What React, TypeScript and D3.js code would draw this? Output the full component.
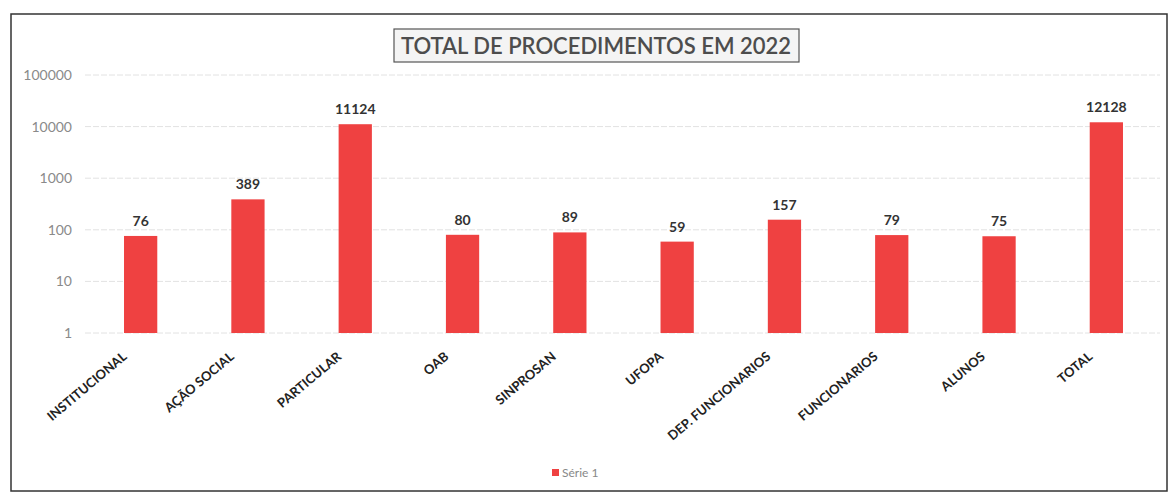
import React from "react";
import * as d3 from "d3";

const categories = [
  "INSTITUCIONAL",
  "AÇÃO SOCIAL",
  "PARTICULAR",
  "OAB",
  "SINPROSAN",
  "UFOPA",
  "DEP. FUNCIONARIOS",
  "FUNCIONARIOS",
  "ALUNOS",
  "TOTAL",
];
const values = [76, 389, 11124, 80, 89, 59, 157, 79, 75, 12128];
const yTicks = [1, 10, 100, 1000, 10000, 100000];
const title = "TOTAL DE PROCEDIMENTOS EM 2022";
const seriesName = "Série 1";

const W = 1172;
const H = 500;
const font = "Lato, 'Open Sans', sans-serif";
const barColor = "#ef4141";

export default function App() {
  const left = 87;
  const right = 1160;
  const top = 75;
  const bottom = 333;
  const x = d3.scaleBand<string>().domain(categories).range([left, right]).paddingInner(0.69).paddingOuter(0.345);
  const y = d3.scaleLog().domain([1, 100000]).range([bottom, top]);
  const bw = x.bandwidth();

  return (
    <svg
      width={W}
      height={H}
      style={{ position: "absolute", left: 0, top: 0, background: "#fff" }}
    >
      <rect x={0} y={0} width={W} height={H} fill="#fff" />
      <rect x={11} y={14} width={1156} height={477} fill="none" stroke="#333" strokeWidth={1.5} />
      {yTicks.map((t) => (
        <g key={t}>
          <line x1={left - 2} x2={right} y1={y(t)} y2={y(t)} stroke="#e2e2e2" strokeWidth={1} strokeDasharray="6 2" />
          <text x={72} y={y(t)} dy="0.35em" textAnchor="end" fontFamily={font} fontSize={14} fill="#8a8a8a">
            {t}
          </text>
        </g>
      ))}
      <rect x={394} y={29} width={405} height={33} fill="#f4f4f4" stroke="#555" strokeWidth={1.2} />
      <text x={596} y={46} dy="0.36em" textAnchor="middle" fontFamily={font} fontSize={22} fontWeight={600} fill="#4d4d4d">
        {title}
      </text>
      {categories.map((c, i) => {
        const v = values[i];
        const bx = x(c)!;
        const cx = bx + bw / 2;
        return (
          <g key={c}>
            <rect x={bx} y={y(v)} width={bw} height={y(1) - y(v)} fill={barColor} />
            <text x={cx} y={y(v) - 10} textAnchor="middle" fontFamily={font} fontSize={14} fontWeight={700} fill="#333">
              {v}
            </text>
            <text
              transform={`translate(${cx - 13},${y(1) + 25}) rotate(-40)`}
              textAnchor="end"
              fontFamily={font}
              fontSize={13}
              fontWeight={700}
              fill="#222"
            >
              {c}
            </text>
          </g>
        );
      })}
      <rect x={552} y={469} width={7} height={7} fill={barColor} />
      <text x={562} y={473} dy="0.35em" fontFamily={font} fontSize={12} fill="#888">
        {seriesName}
      </text>
    </svg>
  );
}
